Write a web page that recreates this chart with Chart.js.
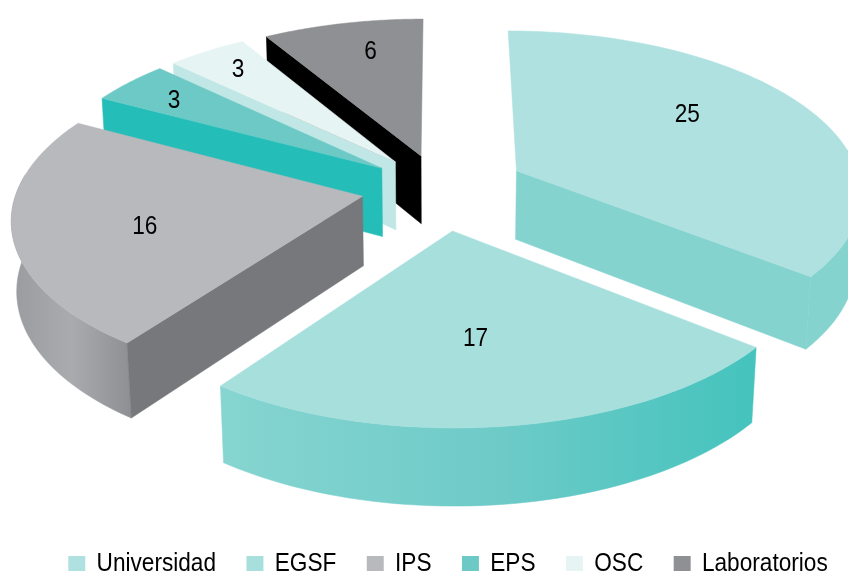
<!DOCTYPE html>
<html>
<head>
<meta charset="utf-8">
<style>
  html, body { margin: 0; padding: 0; background: #fff; }
  #pie { display: block; }
</style>
<script src="https://cdn.jsdelivr.net/npm/chart.js@4/dist/chart.umd.min.js"></script>
</head>
<body>
<canvas id="pie" width="848" height="571"></canvas>
<script>
// data
const categories = ["Universidad", "EGSF", "IPS", "EPS", "OSC", "Laboratorios"];
const values = [25, 17, 16, 3, 3, 6];

// slice styles
const topColors = ["#afe1e0", "#a6dfdc", "#b8b9bd", "#6cc9c5", "#e6f4f3", "#8f9093"];
const cutColors = ["#85d3cf", "#85d3cf", "#77787b", "#25bdb8", "#c0e7e5", "#000000"];
const rimStops = [
  ["#85d3cf", "#85d3cf"],
  ["#86d5d1", "#6fcbc8", "#45c3bd"],
  ["#9a9b9f", "#aaabae", "#8e8f92"],
  ["#25bdb8"], ["#c0e7e5"], ["#000000"]
];
const explode = [86, 90, 79, 73, 73, 73];
const paintOrder = [5, 4, 3, 0, 2, 1];
const labelFrac = [0.65, 0.585, 0.635, 0.80, 0.82, 0.76];
const labelTurn = [-9, 2.1, -4, -1, 0, 2.6];

// camera for the tilted pie
const CX = 440, CY = 188, TILT = 0.467, DIST = 2800, THICK = 70;
// no condensed face is installed, so the text gets squeezed sideways
const FONT = '"Liberation Sans", sans-serif';
const SQUEEZE = 0.87;
const LEGEND_CENTER = 448;

function project(u, v, h) {
  const f = DIST / (DIST - v + h * 0.5);
  return { x: CX + u * f, y: CY + (v * TILT + h) * f };
}

function fillPoly(ctx, pts, fill) {
  ctx.beginPath();
  pts.forEach((p, i) => i ? ctx.lineTo(p.x, p.y) : ctx.moveTo(p.x, p.y));
  ctx.closePath();
  ctx.fillStyle = fill;
  ctx.fill();
  // hairline closes the seams between faces
  ctx.strokeStyle = fill;
  ctx.lineWidth = 0.5;
  ctx.stroke();
}

function drawSlice(ctx, arc, i) {
  const start = arc.startAngle, end = arc.endAngle, r = arc.outerRadius;
  const mid = (start + end) / 2;
  const off = arc.options.offset;
  const ax = Math.cos(mid) * off, ay = Math.sin(mid) * off;
  const at = (a, h) => project(ax + Math.cos(a) * r, ay + Math.sin(a) * r, h);

  const steps = [];
  for (let k = 0; k <= 64; k++) steps.push(start + (end - start) * k / 64);

  // outer wall, only the part turned towards the viewer
  const front = steps.filter(a => Math.sin(a) > -0.15);
  if (front.length > 1) {
    const upper = front.map(a => at(a, 0));
    const lower = front.map(a => at(a, THICK)).reverse();
    const xs = upper.concat(lower).map(p => p.x);
    const grad = ctx.createLinearGradient(Math.min(...xs), 0, Math.max(...xs), 0);
    rimStops[i].forEach((c, k, all) => grad.addColorStop(all.length > 1 ? k / (all.length - 1) : 0, c));
    fillPoly(ctx, upper.concat(lower), grad);
  }

  // radial cut walls
  const apex = project(ax, ay, 0), apexLow = project(ax, ay, THICK);
  const inner = at(mid, 0);
  [start, end].forEach(a => {
    const p = at(a, 0);
    const ex = p.x - apex.x, ey = p.y - apex.y, len = Math.hypot(ex, ey);
    const side = (ex * (inner.y - apex.y) - ey * (inner.x - apex.x)) / len;
    const down = (ex * THICK) / len;
    if (side * down < 0 && Math.abs(down) > 5) {
      fillPoly(ctx, [apex, p, at(a, THICK), apexLow], cutColors[i]);
    }
  });

  // top face
  fillPoly(ctx, [apex].concat(steps.map(a => at(a, 0))), arc.options.backgroundColor);
}

// draws the slices in perspective from the arcs the pie controller laid out
const pie3d = {
  id: "pie3d",
  beforeDatasetsDraw(chart) {
    const ctx = chart.ctx;
    const arcs = chart.getDatasetMeta(0).data;
    paintOrder.forEach(i => drawSlice(ctx, arcs[i], i));

    ctx.fillStyle = "#000";
    ctx.font = "26px " + FONT;
    ctx.textAlign = "center";
    ctx.textBaseline = "middle";
    paintOrder.forEach(i => {
      const arc = arcs[i];
      const mid = (arc.startAngle + arc.endAngle) / 2;
      const a = mid + labelTurn[i] * Math.PI / 180;
      const rr = arc.outerRadius * labelFrac[i];
      const off = arc.options.offset;
      const p = project(Math.cos(mid) * off + Math.cos(a) * rr, Math.sin(mid) * off + Math.sin(a) * rr, 0);
      ctx.save();
      ctx.translate(p.x, p.y);
      ctx.scale(SQUEEZE, 1);
      ctx.fillText(String(values[i]), 0, 0);
      ctx.restore();
    });
    return false;
  }
};

const chart = new Chart(document.getElementById("pie"), {
  type: "pie",
  data: {
    labels: categories,
    datasets: [{
      data: values,
      backgroundColor: topColors,
      borderWidth: 0,
      offset: explode,
      radius: 345
    }]
  },
  options: {
    responsive: false,
    animation: false,
    layout: { padding: { left: 0, right: -200, bottom: -16 } },
    plugins: {
      tooltip: { enabled: false },
      legend: {
        position: "bottom",
        labels: {
          boxWidth: 19.5,
          boxHeight: 16,
          padding: 35,
          color: "#000",
          font: { family: FONT, size: 26 }
        }
      }
    }
  },
  plugins: [pie3d]
});

// squeeze the legend the same way as the value labels
const drawLegend = chart.legend.draw;
chart.legend.draw = function () {
  const ctx = chart.ctx;
  const c = this.left + this.width / 2;
  ctx.save();
  ctx.translate(LEGEND_CENTER, 0);
  ctx.scale(SQUEEZE, 1);
  ctx.translate(-c, 0);
  drawLegend.call(this);
  ctx.restore();
};
chart.draw();
</script>
</body>
</html>
